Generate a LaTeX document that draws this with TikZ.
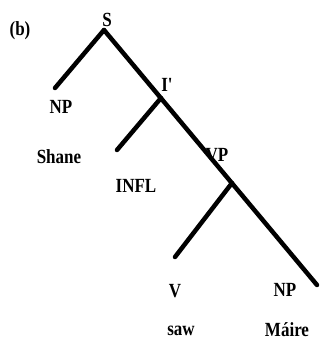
\documentclass[tikz,border=0pt]{standalone}
\usepackage{fontspec}
\setmainfont{Liberation Serif}
\newcommand{\tall}[1]{\scalebox{1}[1.18]{#1}}
\begin{document}
\begin{tikzpicture}[x=1pt,y=-1pt,
  lbl/.style={font=\fontsize{17}{17}\selectfont\bfseries, inner sep=0pt, anchor=center},
  branch/.style={line width=4.5pt, line cap=round}]
\useasboundingbox (0,0) rectangle (320,345);

% branching points and branch ends
\coordinate (s)    at (104,30);
\coordinate (npl)  at (55,88);
\coordinate (ib)   at (161,98);
\coordinate (infl) at (117,150);
\coordinate (vb)   at (232,183);
\coordinate (vend) at (175,257);
\coordinate (npr)  at (317,285);

% branches
\draw[branch] (s) -- (npl);
\draw[branch] (s) -- (npr);
\draw[branch] (ib) -- (infl);
\draw[branch] (vb) -- (vend);

% labels
\node[lbl] (tag)   at (20,31)   {\tall{(b)}};
\node[lbl] (tS)    at (107,20)  {\tall{S}};
\node[lbl] (tNP1)  at (61,107)  {\tall{NP}};
\node[lbl] (tShane)at (59,157)  {\tall{Shane}};
\node[lbl] (tI)    at (167,85)  {\tall{I\textquotesingle}};
\node[lbl] (tINFL) at (136,186) {\tall{INFL}};
\node[lbl] (tVP)   at (217,155) {\tall{VP}};
\node[lbl] (tV)    at (175,291) {\tall{V}};
\node[lbl] (tNP2)  at (285,290) {\tall{NP}};
\node[lbl] (tsaw)  at (181,331) {\tall{saw}};
\node[lbl] (tMaire)at (287,330) {\tall{Máire}};
\end{tikzpicture}
\end{document}
